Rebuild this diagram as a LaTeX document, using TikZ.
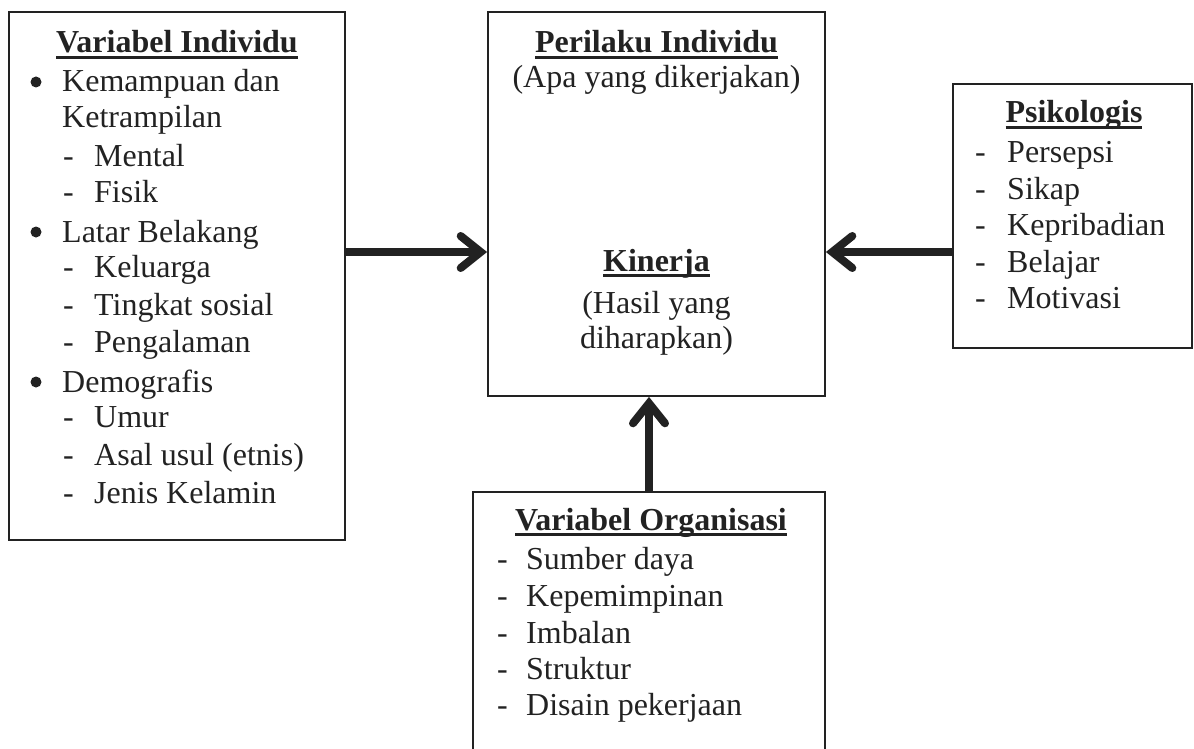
\documentclass[tikz,border=0pt]{standalone}
\usepackage{fontspec}
\setmainfont{Liberation Serif}
\usetikzlibrary{arrows.meta}
\definecolor{ink}{HTML}{222222}
\newcommand\myul[1]{\setbox0\hbox{#1}\rlap{\rule[-6pt]{\wd0}{3pt}}\box0}
\begin{document}
\begin{tikzpicture}[x=1pt,y=-1pt,
  every node/.style={font=\fontsize{32}{37}\selectfont, text=ink, inner sep=0pt},
  box/.style={draw=ink, line width=1.8pt, rectangle, fill=none},
  lft/.style={anchor=base west},
  ctr/.style={anchor=base},
  dot/.style={circle, fill=ink, minimum size=11pt, inner sep=0pt},
  conn/.style={draw=ink, line width=8pt,
    -{Straight Barb[length=20pt,width=32pt,line cap=round,line join=miter]}}]
\useasboundingbox (0,0) rectangle (1194,749);
% boxes
\node[box, minimum width=336pt, minimum height=528pt] (lbox) at (177,276) {};
\node[box, minimum width=337pt, minimum height=384pt] (cbox) at (656.5,204) {};
\node[box, minimum width=239pt, minimum height=264pt] (pbox) at (1072.5,216) {};
\node[box, minimum width=352pt, minimum height=266pt] (obox) at (649,625) {};
% left box text
\node[ctr] (lt) at (177,53) {\bfseries\myul{Variabel Individu}};
\node[dot] (lb1) at (36,82) {};
\node[lft] (l1) at (62,92) {Kemampuan dan};
\node[lft] (l2) at (62,128) {Ketrampilan};
\node[lft] (ld3) at (63,166) {-};
\node[lft] (l3) at (94,166) {Mental};
\node[lft] (ld4) at (63,202) {-};
\node[lft] (l4) at (94,202) {Fisik};
\node[dot] (lb5) at (36,232) {};
\node[lft] (l5) at (62,242) {Latar Belakang};
\node[lft] (ld6) at (63,277) {-};
\node[lft] (l6) at (94,277) {Keluarga};
\node[lft] (ld7) at (63,315) {-};
\node[lft] (l7) at (94,315) {Tingkat sosial};
\node[lft] (ld8) at (63,352) {-};
\node[lft] (l8) at (94,352) {Pengalaman};
\node[dot] (lb9) at (36,382) {};
\node[lft] (l9) at (62,392) {Demografis};
\node[lft] (ld10) at (63,427) {-};
\node[lft] (l10) at (94,427) {Umur};
\node[lft] (ld11) at (63,465) {-};
\node[lft] (l11) at (94,465) {Asal usul (etnis)};
\node[lft] (ld12) at (63,503) {-};
\node[lft] (l12) at (94,503) {Jenis Kelamin};
% centre box text
\node[ctr] (ct) at (656.5,53) {\bfseries\myul{Perilaku Individu}};
\node[ctr] (c1) at (656.5,88) {(Apa yang dikerjakan)};
\node[ctr] (kt) at (656.5,271) {\bfseries\myul{Kinerja}};
\node[ctr] (k1) at (656.5,313) {(Hasil yang};
\node[ctr] (k2) at (656.5,348) {diharapkan)};
% psikologis
\node[ctr] (pt) at (1074,123) {\bfseries\myul{Psikologis}};
\node[lft] (pd1) at (975,162) {-};
\node[lft] (p1) at (1007,162) {Persepsi};
\node[lft] (pd2) at (975,199) {-};
\node[lft] (p2) at (1007,199) {Sikap};
\node[lft] (pd3) at (975,235) {-};
\node[lft] (p3) at (1007,235) {Kepribadian};
\node[lft] (pd4) at (975,272) {-};
\node[lft] (p4) at (1007,272) {Belajar};
\node[lft] (pd5) at (975,308) {-};
\node[lft] (p5) at (1007,308) {Motivasi};
% organisasi
\node[ctr] (ot) at (651,530) {\bfseries\myul{Variabel Organisasi}};
\node[lft] (od1) at (497,569) {-};
\node[lft] (o1) at (526,569) {Sumber daya};
\node[lft] (od2) at (497,606) {-};
\node[lft] (o2) at (526,606) {Kepemimpinan};
\node[lft] (od3) at (497,643) {-};
\node[lft] (o3) at (526,643) {Imbalan};
\node[lft] (od4) at (497,679) {-};
\node[lft] (o4) at (526,679) {Struktur};
\node[lft] (od5) at (497,715) {-};
\node[lft] (o5) at (526,715) {Disain pekerjaan};
% connectors
\coordinate (ay) at (0,252);
\draw[conn] (lbox.east |- ay) -- (cbox.west |- ay);
\draw[conn] (pbox.west |- ay) -- (cbox.east |- ay);
\draw[conn] (obox.north) -- (cbox.south -| obox.north);
\end{tikzpicture}
\end{document}
